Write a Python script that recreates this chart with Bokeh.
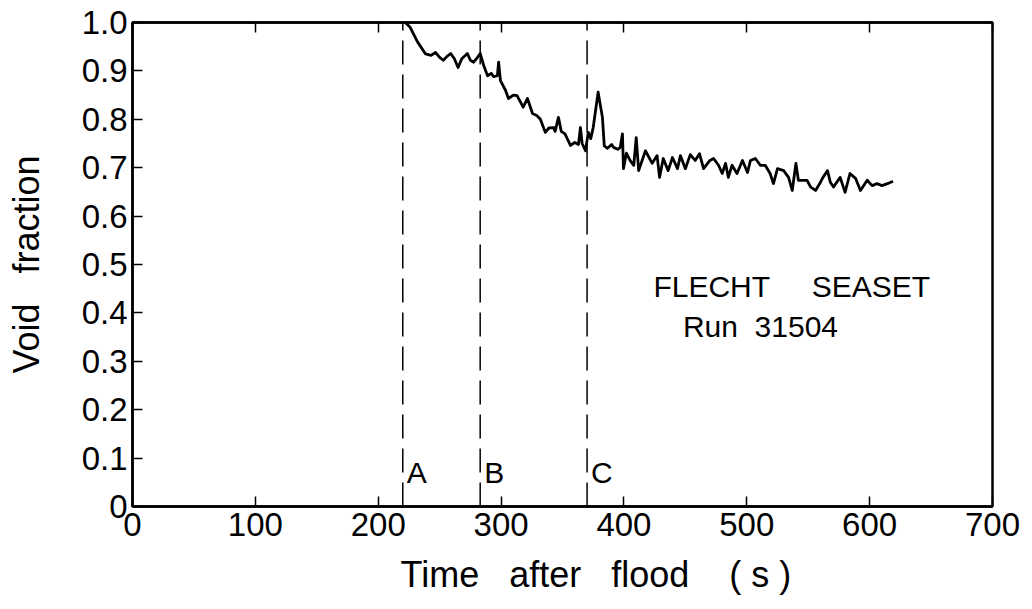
from bokeh.plotting import figure
from bokeh.models import FixedTicker, LinearAxis, Range1d, ColumnDataSource, Title
from bokeh.core.properties import value
from bokeh.embed import file_html
from bokeh.resources import INLINE

# ---- data ----
time_s = [222, 226, 232, 238.5, 243, 246.6, 250, 253, 256, 259, 262, 265, 268, 272.6, 275, 277.5, 280, 283,
          286, 289, 292, 294, 297, 298, 299.5, 303.6, 306, 310, 313, 318, 321.5, 325.6, 329, 332, 336, 339,
          342.7, 344, 346.7, 349, 352, 356.5, 360, 363, 364.6, 366, 368.7, 371, 373, 375, 379, 382.5, 384,
          386.6, 390, 391.5, 395, 397, 398.8, 399.6, 402, 405, 408, 410, 412, 417.5, 423, 427, 429, 432, 436,
          439.5, 443.6, 446, 450, 454, 458, 461.5, 464.8, 470, 473, 477, 480, 482.7, 485, 488, 492, 496.5,
          500.6, 503, 507, 511, 515, 519, 521.7, 525, 530, 534, 537, 540, 542, 549, 552, 556, 560, 562,
          565.7, 568, 570.6, 576, 580, 584, 588.5, 592.5, 598, 602, 606, 610, 614.5, 619]
void_fraction = [1.0, 0.99, 0.96, 0.935, 0.932, 0.938, 0.928, 0.922, 0.93, 0.936, 0.925, 0.907, 0.925, 0.936,
                 0.922, 0.918, 0.925, 0.936, 0.91, 0.89, 0.895, 0.888, 0.89, 0.918, 0.88, 0.86, 0.843, 0.85,
                 0.849, 0.825, 0.843, 0.812, 0.808, 0.80, 0.773, 0.782, 0.783, 0.775, 0.804, 0.775, 0.77,
                 0.746, 0.752, 0.748, 0.783, 0.75, 0.735, 0.773, 0.76, 0.783, 0.856, 0.804, 0.745, 0.74,
                 0.748, 0.742, 0.738, 0.742, 0.77, 0.698, 0.73, 0.715, 0.705, 0.762, 0.694, 0.735, 0.709,
                 0.725, 0.68, 0.719, 0.694, 0.721, 0.698, 0.725, 0.698, 0.727, 0.715, 0.729, 0.698, 0.715,
                 0.719, 0.705, 0.688, 0.709, 0.68, 0.705, 0.688, 0.715, 0.69, 0.715, 0.719, 0.705, 0.705,
                 0.688, 0.667, 0.698, 0.694, 0.68, 0.653, 0.709, 0.674, 0.674, 0.66, 0.653, 0.67, 0.68,
                 0.694, 0.67, 0.66, 0.68, 0.649, 0.688, 0.678, 0.653, 0.674, 0.663, 0.667, 0.663, 0.667, 0.672]

marker_times = [220, 283, 370]
marker_labels = ["A", "B", "C"]
marker_label_y = [0.07, 0.07, 0.07]

x_ticks = [0, 100, 200, 300, 400, 500, 600, 700]
y_ticks = [0, 0.1, 0.2, 0.3, 0.4, 0.5, 0.6, 0.7, 0.8, 0.9, 1.0]
y_tick_labels = ["0", "0.1", "0.2", "0.3", "0.4", "0.5", "0.6", "0.7", "0.8", "0.9", "1.0"]

NB = "\u00a0"
note_lines = ["FLECHT" + NB * 4 + " SEASET", "Run" + NB + " 31504"]
note_x = [424, 448]
note_y = [0.455, 0.372]

x_title = "Time" + NB * 2 + " after" + NB * 2 + " flood" + NB * 3 + " (" + NB + "s" + NB + ")"
y_title = "Void" + NB * 2 + " fraction"

FONT = "Liberation Sans"

p = figure(width=1032, height=609, output_backend="svg", toolbar_location=None,
           x_range=Range1d(0, 700), y_range=Range1d(0, 1.0),
           min_border_left=132, min_border_right=40, min_border_top=22, min_border_bottom=103)
p.background_fill_color = "white"
p.border_fill_color = "white"
p.grid.visible = False
p.outline_line_color = "black"
p.outline_line_width = 2.5

for ax in (p.xaxis[0], p.yaxis[0]):
    ax.axis_line_width = 2.5
    ax.axis_line_color = "black"
    ax.major_tick_in = 10
    ax.major_tick_out = 0
    ax.major_tick_line_width = 1.5
    ax.minor_tick_line_color = None
    ax.major_label_text_font = FONT
    ax.major_label_text_font_size = "33px"
    ax.major_label_text_color = "black"
    ax.axis_label_text_font = FONT
    ax.axis_label_text_font_style = "normal"
    ax.axis_label_text_color = "black"
    ax.axis_label_text_font_size = "36px"

p.xaxis.ticker = FixedTicker(ticks=x_ticks)
p.yaxis.ticker = FixedTicker(ticks=y_ticks)
p.yaxis.major_label_overrides = {t: l for t, l in zip(y_ticks, y_tick_labels)}
p.xaxis.major_label_standoff = 6
p.yaxis.major_label_standoff = 5
p.yaxis.axis_label = y_title
p.yaxis.axis_label_standoff = 32

# x-axis title, placed below the tick labels, starting where the reference's does
xt = Title(text=x_title, align="left", offset=268, text_font=FONT, text_font_size="36px",
           text_font_style="normal", text_color="black", standoff=26)
p.add_layout(xt, "below")

# top ticks (inward)
top = LinearAxis(ticker=FixedTicker(ticks=x_ticks), major_label_text_font_size="0px",
                 major_tick_in=10, major_tick_out=0, major_tick_line_width=1.5,
                 minor_tick_line_color=None, axis_line_width=2.5)
top.major_label_overrides = {t: "" for t in x_ticks}
p.add_layout(top, "above")

# dashed marker lines
src_m = ColumnDataSource(dict(x=marker_times, y0=[0] * 3, y1=[1.0] * 3,
                              lab=marker_labels, ly=marker_label_y))
p.segment(x0="x", y0="y0", x1="x", y1="y1", source=src_m, line_color="black",
          line_width=1.5, line_dash="24 10")
p.text(x="x", y="ly", text="lab", source=src_m, x_offset=4, text_baseline="middle",
       text_align="left", text_font=value(FONT), text_font_size="30px", text_color="black")

# data curve
p.line(time_s, void_fraction, line_color="black", line_width=2.8, line_join="round")

# annotation
p.text(x=note_x, y=note_y, text=note_lines, text_baseline="middle", text_align="left",
       text_font=value(FONT), text_font_size="30px", text_color="black")

open("out.html", "w").write(file_html(p, INLINE))
